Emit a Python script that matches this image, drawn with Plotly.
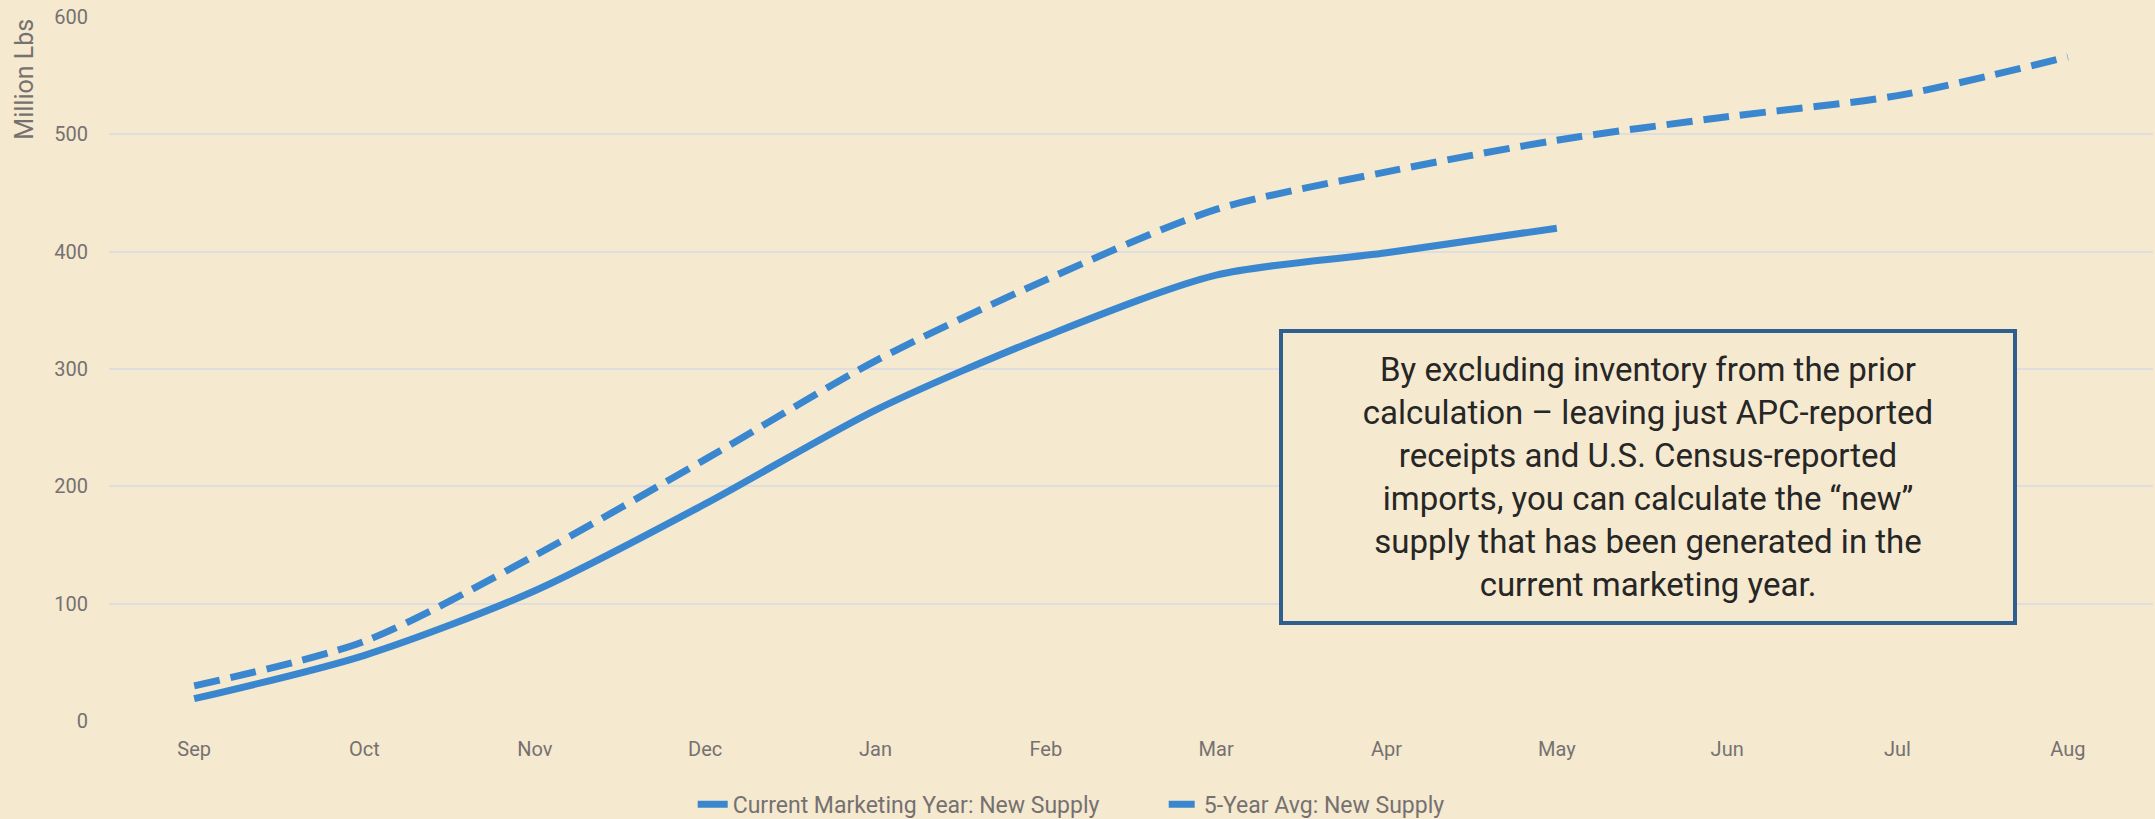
import plotly.graph_objects as go

months = ["Sep", "Oct", "Nov", "Dec", "Jan", "Feb", "Mar", "Apr", "May", "Jun", "Jul", "Aug"]
current_my = [19, 56, 111, 185, 265, 328, 380, 399, 420]
five_yr_avg = [30, 68, 141, 223, 307, 376, 436, 468, 495, 515, 533, 566]

FONT = "Roboto, Liberation Sans, sans-serif"
BLUE = "#3A87CF"
BG = "#F5E9CF"
GREY = "#767171"

fig = go.Figure()
fig.add_trace(go.Scatter(
    x=months[:len(current_my)], y=current_my, mode="lines",
    name="Current Marketing Year: New Supply",
    line=dict(color=BLUE, width=7, shape="spline", smoothing=0.8),
))
fig.add_trace(go.Scatter(
    x=months, y=five_yr_avg, mode="lines",
    name="5-Year Avg: New Supply",
    line=dict(color=BLUE, width=7, shape="spline", smoothing=0.8, dash="26px,11px"),
))

note = ("By excluding inventory from the prior<br>calculation \u2013 leaving just APC-reported<br>"
        "receipts and U.S. Census-reported<br>imports, you can calculate the \u201cnew\u201d<br>"
        "supply that has been generated in the<br>current marketing year.")

fig.add_annotation(
    xref="paper", yref="paper", x=0.753, y=0.346, xanchor="center", yanchor="middle",
    text=note, showarrow=False, align="center",
    font=dict(family=FONT, size=33, color="#262626"),
    bordercolor="#2F5F8E", borderwidth=4, borderpad=4,
    bgcolor=BG, width=722, height=280,
)

fig.add_annotation(
    xref="paper", yref="paper", x=-0.0415, y=1.0, xanchor="center", yanchor="top",
    text="Million Lbs", textangle=-90, showarrow=False,
    font=dict(family=FONT, size=25, color=GREY),
)

fig.update_layout(
    width=2155, height=819,
    paper_bgcolor=BG, plot_bgcolor=BG,
    margin=dict(l=109, r=2, t=17, b=98),
    font=dict(family=FONT, size=20, color=GREY),
    showlegend=True,
    legend=dict(orientation="h", xref="paper", yref="container",
                x=0.516, y=0.018, xanchor="center", yanchor="middle",
                font=dict(size=23, color=GREY), bgcolor="rgba(0,0,0,0)",
                entrywidth=426, tracegroupgap=0),
    xaxis=dict(
        type="category", categoryorder="array", categoryarray=months,
        range=[-0.5, 11.5], showgrid=False, zeroline=False, showline=False,
        ticks="", ticklabelstandoff=14, tickfont=dict(size=20, color=GREY),
    ),
    yaxis=dict(
        range=[0, 600], tickvals=[0, 100, 200, 300, 400, 500, 600],
        showgrid=True, gridcolor="#DEDEDE", gridwidth=2, zeroline=False,
        ticks="", ticklabelstandoff=20, tickfont=dict(size=20, color=GREY),
    ),
)

fig.write_html("out.html", config={"displayModeBar": False},
               post_script="document.body.style.margin='0';document.body.style.padding='0';")
